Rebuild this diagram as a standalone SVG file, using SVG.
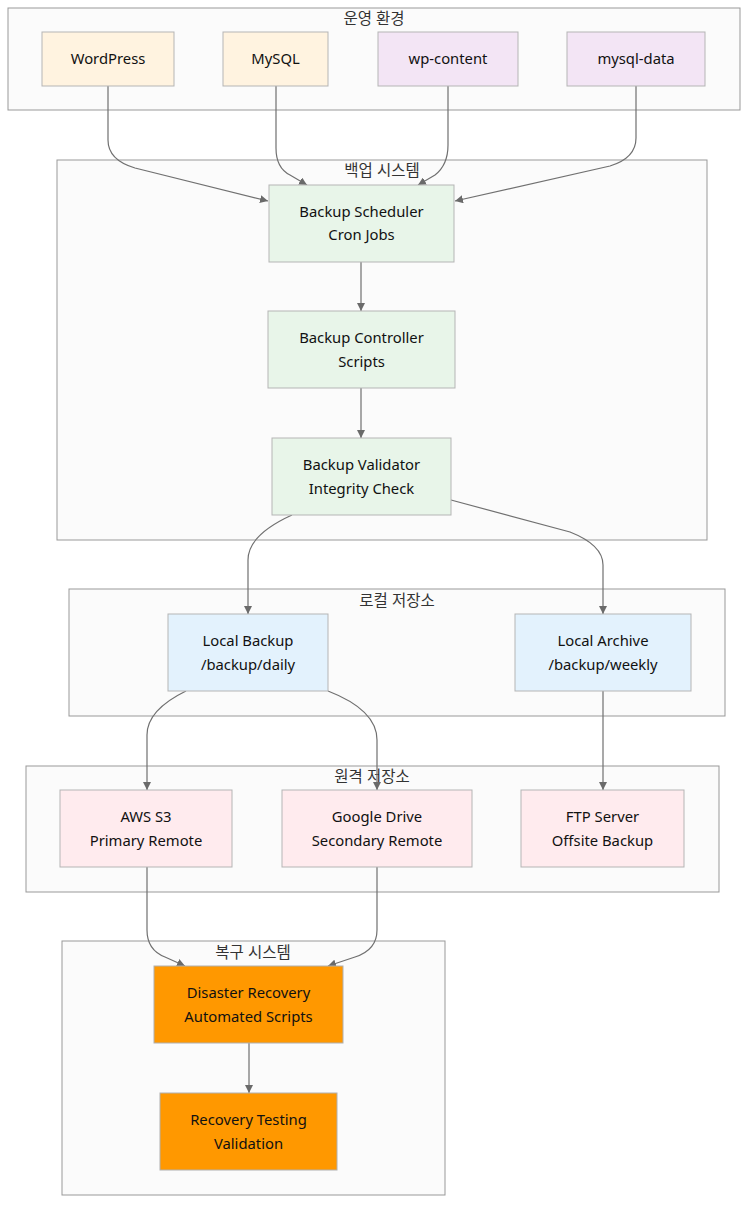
<svg xmlns="http://www.w3.org/2000/svg" width="756" height="1216" viewBox="0 0 756 1216">
<style>
.bg{fill:#ffffff}
.cl{fill:#fbfbfb;stroke:#999999;stroke-width:1}
.ct{font-family:"Noto Sans","Noto Sans CJK KR",sans-serif;font-size:15.5px;fill:#333333;text-anchor:middle}
.n{stroke:#b5b5b5;stroke-width:1}
.t{font-family:"Noto Sans","Noto Sans CJK KR",sans-serif;font-size:14.8px;fill:#111111;text-anchor:middle}
.ops{fill:#fff3e0}
.vol{fill:#f3e5f5}
.bak{fill:#e8f5e9}
.loc{fill:#e3f2fd}
.rem{fill:#ffebee}
.rec{fill:#ff9800;stroke:#b0b0b0}
.e{fill:none;stroke:#707070;stroke-width:1.2;marker-end:url(#arr)}
</style>
<defs>
<marker id="arr" viewBox="0 0 10 10" refX="10" refY="5" markerWidth="8" markerHeight="8" markerUnits="userSpaceOnUse" orient="auto">
<path d="M0,0 L10,5 L0,10 z" fill="#6a6a6a"/>
</marker>
</defs>
<rect class="bg" x="0" y="0" width="756" height="1216"/>

<g id="cluster-ops">
<rect class="cl" x="8" y="8" width="732" height="102"/>
<text class="ct" x="374" y="24">운영 환경</text>
</g>
<g id="cluster-backup">
<rect class="cl" x="57" y="160" width="650" height="380"/>
<text class="ct" x="382" y="176">백업 시스템</text>
</g>
<g id="cluster-local">
<rect class="cl" x="69" y="589" width="656" height="127"/>
<text class="ct" x="397" y="606">로컬 저장소</text>
</g>
<g id="cluster-remote">
<rect class="cl" x="26" y="766" width="693" height="126"/>
<text class="ct" x="372" y="782">원격 저장소</text>
</g>
<g id="cluster-recovery">
<rect class="cl" x="62" y="941" width="383" height="254"/>
<text class="ct" x="253" y="958">복구 시스템</text>
</g>

<g id="connectors">
<path class="e" d="M108,86 L108,140 Q108,160 135,168 L268,201"/>
<path class="e" d="M276,86 L276,148 Q276,168 290,175 L307,185"/>
<path class="e" d="M448,86 L448,145 Q448,165 435,175 L418,185"/>
<path class="e" d="M636,86 L636,138 Q636,158 610,166 L455,201"/>
<path class="e" d="M361,262 L361,311"/>
<path class="e" d="M361,388 L361,438"/>
<path class="e" d="M292,515 Q248,535 248,560 L248,614"/>
<path class="e" d="M451,500 L570,532 Q603,545 603,565 L603,614"/>
<path class="e" d="M186,691 Q147,710 147,735 L147,790"/>
<path class="e" d="M328,691 Q377,710 377,740 L377,790"/>
<path class="e" d="M603,691 L603,790"/>
<path class="e" d="M147,867 L147,930 Q147,950 165,957 L185,966"/>
<path class="e" d="M377,867 L377,930 Q377,950 355,957 L328,966"/>
<path class="e" d="M249,1043 L249,1093"/>
</g>

<g id="node-wordpress">
<rect class="n ops" x="42" y="32" width="132" height="54"/>
<text class="t" x="108" y="64">WordPress</text>
</g>
<g id="node-mysql">
<rect class="n ops" x="223" y="32" width="105" height="54"/>
<text class="t" x="275.5" y="64">MySQL</text>
</g>
<g id="node-wpcontent">
<rect class="n vol" x="378" y="32" width="140" height="54"/>
<text class="t" x="448" y="64">wp-content</text>
</g>
<g id="node-mysqldata">
<rect class="n vol" x="567" y="32" width="138" height="54"/>
<text class="t" x="636" y="64">mysql-data</text>
</g>

<g id="node-scheduler">
<rect class="n bak" x="269" y="185" width="185" height="77"/>
<text class="t" x="361.5" y="217">Backup Scheduler</text>
<text class="t" x="361.5" y="240">Cron Jobs</text>
</g>
<g id="node-controller">
<rect class="n bak" x="268" y="311" width="187" height="77"/>
<text class="t" x="361.5" y="343">Backup Controller</text>
<text class="t" x="361.5" y="367">Scripts</text>
</g>
<g id="node-validator">
<rect class="n bak" x="272" y="438" width="179" height="77"/>
<text class="t" x="361.5" y="470">Backup Validator</text>
<text class="t" x="361.5" y="494">Integrity Check</text>
</g>

<g id="node-localbackup">
<rect class="n loc" x="168" y="614" width="160" height="77"/>
<text class="t" x="248" y="646">Local Backup</text>
<text class="t" x="248" y="670">/backup/daily</text>
</g>
<g id="node-localarchive">
<rect class="n loc" x="515" y="614" width="176" height="77"/>
<text class="t" x="603" y="646">Local Archive</text>
<text class="t" x="603" y="670">/backup/weekly</text>
</g>

<g id="node-s3">
<rect class="n rem" x="60" y="790" width="172" height="77"/>
<text class="t" x="146" y="822">AWS S3</text>
<text class="t" x="146" y="846">Primary Remote</text>
</g>
<g id="node-gdrive">
<rect class="n rem" x="282" y="790" width="190" height="77"/>
<text class="t" x="377" y="822">Google Drive</text>
<text class="t" x="377" y="846">Secondary Remote</text>
</g>
<g id="node-ftp">
<rect class="n rem" x="521" y="790" width="163" height="77"/>
<text class="t" x="602.5" y="822">FTP Server</text>
<text class="t" x="602.5" y="846">Offsite Backup</text>
</g>

<g id="node-dr">
<rect class="n rec" x="154" y="966" width="189" height="77"/>
<text class="t" x="248.5" y="998">Disaster Recovery</text>
<text class="t" x="248.5" y="1022">Automated Scripts</text>
</g>
<g id="node-testing">
<rect class="n rec" x="160" y="1093" width="177" height="77"/>
<text class="t" x="248.5" y="1125">Recovery Testing</text>
<text class="t" x="248.5" y="1149">Validation</text>
</g>
</svg>
